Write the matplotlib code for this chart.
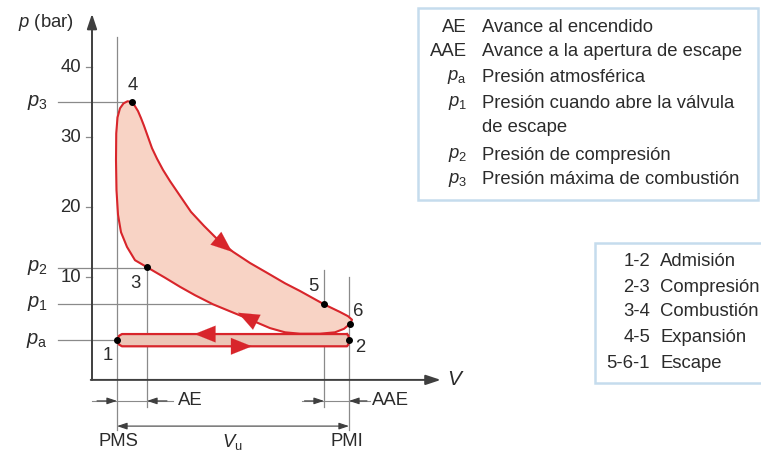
import matplotlib.pyplot as plt
from matplotlib.patches import Rectangle

plt.rcParams['font.family'] = ['Liberation Sans', 'DejaVu Sans']
plt.rcParams['mathtext.fontset'] = 'custom'
plt.rcParams['mathtext.rm'] = 'Liberation Sans'
plt.rcParams['mathtext.it'] = 'Liberation Sans:italic'

# cycle points (V relative to clearance volume, p in bar)
pt_names = ['1', '2', '3', '4', '5', '6']
pt_V = [1.0, 10.28, 2.2, 1.6, 9.28, 10.32]
pt_p = [1.0, 1.0, 11.4, 35.0, 6.1, 3.3]

# closed loop 4 -> 5 -> 6 -> 3 -> 4
loop_V = [1.6, 1.72, 1.84, 1.96, 2.08, 2.24, 2.4, 2.6, 2.84, 3.12, 3.52, 3.96, 4.48,
          5.04, 5.64, 6.32, 7.0, 7.72, 8.32, 9.28, 9.92, 10.24, 10.4, 10.32, 10.08,
          9.72, 9.12, 8.32, 7.72, 7.12, 6.2, 5.52, 4.84, 4.12, 3.52, 2.92, 2.2, 1.72,
          1.4, 1.16, 1.04, 0.98, 0.96, 0.97, 1.02, 1.12, 1.26, 1.42, 1.6]
loop_p = [35.0, 34.4, 33.7, 32.7, 31.6, 30.0, 28.4, 26.9, 25.3, 23.7, 21.6, 19.3, 17.3,
          15.3, 13.6, 12.0, 10.6, 9.1, 8.0, 6.1, 5.0, 4.4, 3.9, 3.3, 2.6,
          2.1, 1.9, 1.9, 2.1, 2.7, 4.1, 5.1, 6.1, 7.4, 8.6, 9.9, 11.4, 12.4,
          14.3, 16.4, 18.9, 22.4, 26.7, 30.5, 32.8, 34.1, 34.8, 35.1, 35.0]

# intake / exhaust strip around p_a
band_V = [10.2, 1.2, 1.08, 1.02, 1.08, 1.2, 10.2, 10.26, 10.28, 10.26, 10.2]
band_p = [1.85, 1.85, 1.6, 1.0, 0.35, 0.1, 0.1, 0.4, 1.0, 1.6, 1.85]

# direction arrows (tail, tip)
arrows = [((5.0, 15.4), (5.6, 13.6)),
          ((6.5, 3.7), (5.84, 4.9)),
          ((4.5, 1.85), (4.1, 1.85)),
          ((5.4, 0.1), (6.4, 0.1))]

p_levels = {'$p_3$': 35.0, '$p_2$': 11.3, '$p_1$': 6.2, '$p_\\mathrm{a}$': 1.0}
p_line_end = {'$p_3$': 1.6, '$p_2$': 2.2, '$p_1$': 9.28, '$p_\\mathrm{a}$': 1.0}
yticks = [10, 20, 30, 40]

legend1_keys = ['AE', 'AAE', '$p_\\mathrm{a}$', '$p_1$', '', '$p_2$', '$p_3$']
legend1_text = ['Avance al encendido', 'Avance a la apertura de escape',
                'Presión atmosférica', 'Presión cuando abre la válvula', 'de escape',
                'Presión de compresión', 'Presión máxima de combustión']
legend2_keys = ['1-2', '2-3', '3-4', '4-5', '5-6-1']
legend2_text = ['Admisión', 'Compresión', 'Combustión', 'Expansión', 'Escape']

RED = '#d8252b'
FILL = '#f8d3c5'
GRAY = '#8a8a8a'
DARK = '#3f3f3f'
TXT = '#2b2b2b'
FS = 13.3

W, H = 761, 453
fig = plt.figure(figsize=(W / 100, H / 100), dpi=100)
ax = fig.add_axes([0, 0, 1, 1])
# 25 px per volume unit, 7 px per bar, origin at pixel (92, 347)
ax.set_xlim(-92 / 25, (W - 92) / 25)
ax.set_ylim(-(H - 347) / 7, 347 / 7)
ax.axis('off')

# guide lines
for lab, pv in p_levels.items():
    ax.plot([-1.36, p_line_end[lab]], [pv, pv], color=GRAY, lw=0.9, zorder=1)
    ax.text(-2.2, pv, lab, ha='center', va='center', fontsize=14.5, color=TXT)
ax.plot([1.0, 1.0], [44.3, -11.9], color=GRAY, lw=0.9, zorder=1)
ax.plot([2.2, 2.2], [11.4, -8.6], color=GRAY, lw=0.9, zorder=1)
ax.plot([9.28, 9.28], [11.0, -8.6], color=GRAY, lw=0.9, zorder=1)
ax.plot([10.28, 10.28], [10.0, -11.9], color=GRAY, lw=0.9, zorder=1)

# axes with arrows
ax.annotate('', xy=(0, 47.6), xytext=(0, -4.7),
            arrowprops=dict(arrowstyle='-|>,head_length=0.9,head_width=0.3', color=DARK, lw=1.4,
                            shrinkA=0, shrinkB=0))
ax.annotate('', xy=(13.95, -4.7), xytext=(-0.05, -4.7),
            arrowprops=dict(arrowstyle='-|>,head_length=0.9,head_width=0.3', color=DARK, lw=1.4,
                            shrinkA=0, shrinkB=0))
for t in yticks:
    ax.plot([-0.24, 0], [t, t], color=GRAY, lw=0.9)
    ax.text(-0.45, t, str(t), ha='right', va='center', fontsize=FS, color=TXT)
ax.text(-2.98, 46.3, '$p$ (bar)', ha='left', va='center', fontsize=FS, color=TXT)
ax.text(14.2, -4.7, '$V$', ha='left', va='center', fontsize=15, color=TXT)

# cycle
ax.fill(band_V, band_p, color='#ecc5b6', zorder=2)
ax.plot(band_V, band_p, color=RED, lw=1.6, zorder=3)
ax.fill(loop_V, loop_p, color=FILL, zorder=2)
ax.plot(loop_V, loop_p, color=RED, lw=1.5, zorder=3)
for tail, tip in arrows:
    ax.annotate('', xy=tip, xytext=tail,
                arrowprops=dict(arrowstyle='-|>,head_length=1.5,head_width=0.6', color=RED,
                                lw=0.1, shrinkA=0, shrinkB=0), zorder=4)
ax.plot(pt_V, pt_p, 'o', color='black', ms=4, zorder=5)
lab_pos = {'1': (0.64, -1.2), '2': (10.72, 0.0), '3': (1.72, 9.0),
           '4': (1.64, 37.3), '5': (8.84, 8.6), '6': (10.64, 5.0)}
for n in pt_names:
    x, y = lab_pos[n]
    ax.text(x, y, n, ha='center', va='center', fontsize=FS, color=TXT)

# dimension lines below the axis
dim = dict(arrowstyle='-|>,head_length=0.6,head_width=0.2', color=DARK, lw=0.8,
           shrinkA=0, shrinkB=0)
ax.plot([0, 3.24], [-7.7, -7.7], color=GRAY, lw=0.8)
ax.annotate('', xy=(1.0, -7.7), xytext=(0.2, -7.7), arrowprops=dim)
ax.annotate('', xy=(2.2, -7.7), xytext=(3.0, -7.7), arrowprops=dim)
ax.text(3.44, -7.7, 'AE', ha='left', va='center', fontsize=FS, color=TXT)
ax.plot([8.4, 11.12], [-7.7, -7.7], color=GRAY, lw=0.8)
ax.annotate('', xy=(9.28, -7.7), xytext=(8.5, -7.7), arrowprops=dim)
ax.annotate('', xy=(10.28, -7.7), xytext=(11.0, -7.7), arrowprops=dim)
ax.text(11.2, -7.7, 'AAE', ha='left', va='center', fontsize=FS, color=TXT)
ax.annotate('', xy=(1.0, -11.3), xytext=(10.28, -11.3),
            arrowprops=dict(arrowstyle='<|-|>,head_length=0.6,head_width=0.2', color=DARK,
                            lw=0.8, shrinkA=0, shrinkB=0))
ax.text(1.04, -13.5, 'PMS', ha='center', va='center', fontsize=FS, color=TXT)
ax.text(5.6, -13.5, '$V_\\mathrm{u}$', ha='center', va='center', fontsize=FS, color=TXT)
ax.text(10.2, -13.5, 'PMI', ha='center', va='center', fontsize=FS, color=TXT)


def fx(px):
    return px / W


def fy(py):
    return 1 - py / H


# legend boxes in pixel positions
fig.patches.append(Rectangle((fx(418), fy(200)), fx(758) - fx(418), fy(8) - fy(200),
                             transform=fig.transFigure, fc='white', ec='#c5dced', lw=1.8))
rows1 = [27, 52, 77, 103, 127, 155, 180]
for k, t, r in zip(legend1_keys, legend1_text, rows1):
    fig.text(fx(467), fy(r), k, ha='right', va='center', fontsize=FS, color=TXT)
    fig.text(fx(482), fy(r), t, ha='left', va='center', fontsize=FS, color=TXT)

fig.patches.append(Rectangle((fx(595), fy(383)), fx(775) - fx(595), fy(243) - fy(383),
                             transform=fig.transFigure, fc='white', ec='#c5dced', lw=1.8))
rows2 = [262, 287, 312, 338, 364]
for k, t, r in zip(legend2_keys, legend2_text, rows2):
    fig.text(fx(650), fy(r), k, ha='right', va='center', fontsize=FS, color=TXT)
    fig.text(fx(660), fy(r), t, ha='left', va='center', fontsize=FS, color=TXT)

fig.savefig('out.png', dpi=100, facecolor='white')
